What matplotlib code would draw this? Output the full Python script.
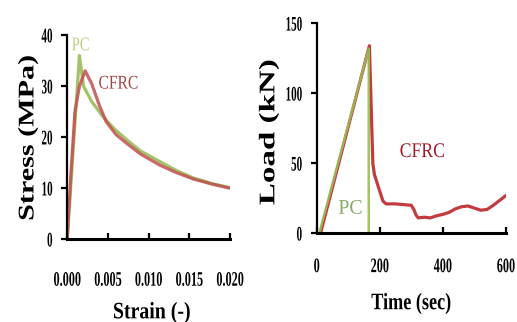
import matplotlib
matplotlib.use('Agg')
import matplotlib.pyplot as plt
import matplotlib.patheffects as pe
from matplotlib.transforms import Affine2D

# stress-strain (left)
pc_strain = [0, 0.0005, 0.001, 0.0015, 0.002, 0.003, 0.0044, 0.0058, 0.0073, 0.009, 0.0114, 0.0135, 0.0155, 0.0178, 0.020]
pc_stress = [0, 12, 24, 36, 30, 27, 24, 21.6, 19.5, 17.3, 15.2, 13.4, 12.0, 10.9, 10.1]
cfrc_strain = [0, 0.0005, 0.00095, 0.0015, 0.0022, 0.003, 0.004, 0.0048, 0.006, 0.0073, 0.009, 0.0114, 0.0135, 0.0155, 0.0178, 0.020]
cfrc_stress = [0, 14, 25, 30, 33, 30.5, 26, 23, 20.5, 18.8, 16.7, 14.5, 13.0, 11.8, 10.8, 10]

# load-time (right)
pc_time = [8, 165, 165]
pc_load = [0, 132, 0]
cfrc_time = [12, 167, 178, 183, 190, 200, 210, 220, 250, 275, 300, 308, 315, 322, 340, 360, 380, 400, 420,
             440, 460, 480, 500, 520, 540, 560, 580, 600]
cfrc_load = [0, 134, 50, 42, 37, 30, 23, 21, 21, 20.5, 20, 17, 13, 11, 11.5, 11, 12.5, 13.5, 15,
             17.5, 19, 19.5, 18, 16.5, 17, 20, 23.5, 27]

strain_ticks = [0, 0.005, 0.010, 0.015, 0.020]
strain_labels = ['0.000', '0.005', '0.010', '0.015', '0.020']
stress_ticks = [0, 10, 20, 30, 40]
time_ticks = [0, 200, 400, 600]
load_ticks = [0, 50, 100, 150]

RED = '#c0504d'
GREEN = '#9bbb59'
FONT = 'Liberation Serif'


class Squeeze(pe.AbstractPathEffect):
    # narrow / stretch the glyphs, the reference font is a condensed one
    def __init__(self, sx=1.0, sy=1.0, anchor='center'):
        super().__init__()
        self.sx, self.sy, self.anchor = sx, sy, anchor

    def draw_path(self, renderer, gc, tpath, affine, rgbFace=None):
        bb = tpath.get_extents(affine)
        cx = {'left': bb.x0, 'right': bb.x1}.get(self.anchor, (bb.x0 + bb.x1) / 2)
        cy = (bb.y0 + bb.y1) / 2
        t = affine + Affine2D().translate(-cx, -cy).scale(self.sx, self.sy).translate(cx, cy)
        renderer.draw_path(gc, tpath, t, rgbFace)


def style_axes(ax, xpad):
    for s in ['top', 'right']:
        ax.spines[s].set_visible(False)
    ax.spines['left'].set_linewidth(1.6)
    ax.spines['bottom'].set_linewidth(2.2)
    ax.tick_params(axis='x', direction='in', length=4, width=1.6, pad=xpad)
    ax.tick_params(axis='y', direction='out', length=4, width=1.6, pad=6.5)
    for lab in ax.get_xticklabels():
        lab.set_fontfamily(FONT)
        lab.set_fontweight('bold')
        lab.set_fontsize(11)
        lab.set_path_effects([Squeeze(sx=0.8, sy=1.35)])
    for lab in ax.get_yticklabels():
        lab.set_fontfamily(FONT)
        lab.set_fontweight('bold')
        lab.set_fontsize(10)
        lab.set_path_effects([Squeeze(sx=0.8, sy=1.5, anchor='right')])


fig = plt.figure(figsize=(5.17, 3.22), dpi=100)

ax1 = fig.add_axes([0.130, 0.257, 0.315, 0.634])
ax1.plot(pc_strain, pc_stress, color=GREEN, lw=2.3, alpha=0.9)
ax1.plot(cfrc_strain, cfrc_stress, color=RED, lw=2.3, alpha=0.85)
ax1.set_xlim(0, 0.020)
ax1.set_ylim(0, 40)
ax1.set_xticks(strain_ticks)
ax1.set_xticklabels(strain_labels)
ax1.set_yticks(stress_ticks)
style_axes(ax1, 25)
ax1.set_xlabel('Strain (-)', family=FONT, weight='bold', fontsize=17, va='center',
               path_effects=[Squeeze(sx=0.84)])
ax1.xaxis.set_label_coords(0.52, -0.36)
ax1.set_ylabel('Stress (MPa)', family=FONT, weight='bold', fontsize=14, va='center',
               path_effects=[Squeeze(sx=1.15, sy=1.55)])
ax1.yaxis.set_label_coords(-0.24, 0.498)
ax1.text(0.00166, 37.9, 'PC', family=FONT, fontsize=14, color='#c5cc86', ha='center', va='center',
         path_effects=[Squeeze(sx=0.75)])
ax1.text(0.0063, 30.4, 'CFRC', family=FONT, fontsize=14, color='#a84444', ha='center', va='center',
         path_effects=[Squeeze(sx=0.8)])

ax2 = fig.add_axes([0.6126, 0.2755, 0.366, 0.652])
ax2.plot(cfrc_time, cfrc_load, color='#c23b3e', lw=2.3)
ax2.plot(pc_time, pc_load, color=GREEN, lw=1.8, alpha=0.9)
ax2.set_xlim(0, 600)
ax2.set_ylim(0, 150)
ax2.set_xticks(time_ticks)
ax2.set_yticks(load_ticks)
style_axes(ax2, 19.5)
ax2.set_xlabel('Time (sec)', family=FONT, weight='bold', fontsize=17, va='center',
               path_effects=[Squeeze(sx=0.77)])
ax2.xaxis.set_label_coords(0.5, -0.335)
ax2.set_ylabel('Load (kN)', family=FONT, weight='bold', fontsize=14, va='center',
               path_effects=[Squeeze(sx=1.15, sy=1.7)])
ax2.yaxis.set_label_coords(-0.252, 0.482)
ax2.text(335, 57.7, 'CFRC', family=FONT, fontsize=15, color='#9e1b2a', ha='center', va='center',
         path_effects=[Squeeze(sx=0.85)])
ax2.text(107, 17.2, 'PC', family=FONT, fontsize=15, color='#88aa66', ha='center', va='center',
         path_effects=[Squeeze(sx=0.95)])

fig.savefig('out.png', dpi=100)
